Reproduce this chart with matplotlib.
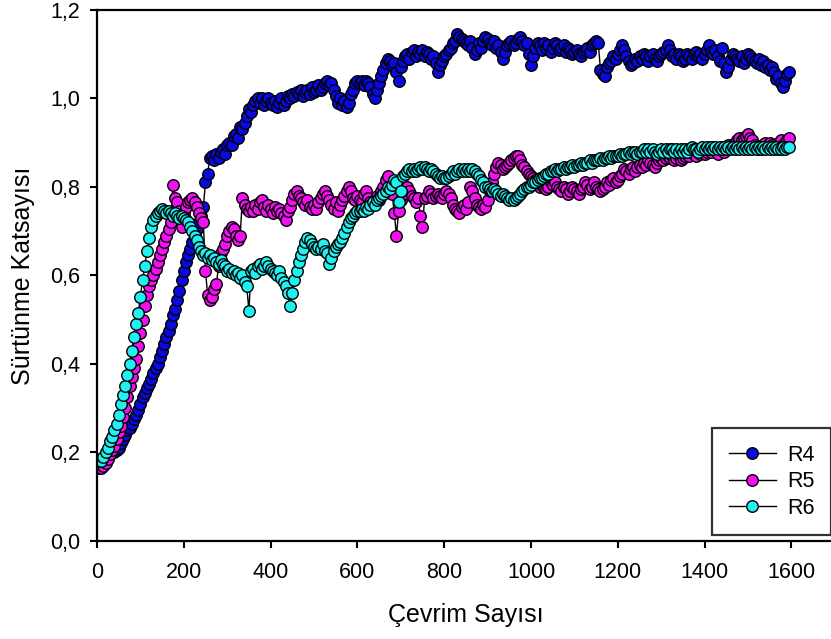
import numpy as np
import matplotlib
matplotlib.use("Agg")
import matplotlib.pyplot as plt
from matplotlib.ticker import FuncFormatter

plt.rcParams['font.family'] = ['Liberation Sans', 'DejaVu Sans']

# Cycle counts, one reading every 5 cycles
cycles = np.arange(5, 1600, 5)

r4 = [0.175, 0.18, 0.185, 0.19, 0.19, 0.195, 0.20, 0.20, 0.205, 0.21,
      0.22, 0.23, 0.24, 0.25, 0.255, 0.265, 0.275, 0.285, 0.295, 0.31,
      0.325, 0.335, 0.345, 0.355, 0.365, 0.38, 0.39, 0.40, 0.415, 0.43,
      0.445, 0.46, 0.475, 0.49, 0.51, 0.525, 0.545, 0.565, 0.59, 0.61,
      0.63, 0.645, 0.66, 0.675, 0.69, 0.705, 0.72, 0.735, 0.755, 0.81,
      0.83, 0.865, 0.87, 0.86, 0.875, 0.865, 0.88, 0.885, 0.875, 0.895,
      0.90, 0.895, 0.915, 0.92, 0.91, 0.935, 0.93, 0.945, 0.96, 0.975,
      0.97, 0.985, 0.995, 1.0, 0.99, 1.0, 0.985, 0.995, 1.0, 0.99,
      0.985, 0.995, 0.98, 0.99, 1.0, 0.985, 0.995, 1.005, 1.0, 1.01,
      1.005, 1.015, 1.01, 1.02, 1.005, 1.015, 1.02, 1.01, 1.025, 1.015,
      1.02, 1.03, 1.02, 1.025, 1.035, 1.04, 1.03, 1.035, 1.02, 1.005,
      0.99, 1.0, 0.985, 0.995, 0.98, 0.99, 1.01, 1.02, 1.035, 1.04,
      1.035, 1.04, 1.03, 1.04, 1.035, 1.025, 1.01, 1.0, 1.02, 1.035,
      1.05, 1.065, 1.08, 1.09, 1.085, 1.075, 1.08, 1.06, 1.04, 1.07,
      1.085, 1.095, 1.10, 1.09, 1.105, 1.11, 1.095, 1.105, 1.10, 1.11,
      1.095, 1.105, 1.10, 1.09, 1.095, 1.08, 1.06, 1.075, 1.085, 1.095,
      1.10, 1.11, 1.115, 1.125, 1.13, 1.145, 1.14, 1.135, 1.13, 1.125,
      1.12, 1.13, 1.115, 1.10, 1.11, 1.125, 1.115, 1.13, 1.14, 1.135,
      1.125, 1.12, 1.13, 1.115, 1.12, 1.105, 1.09, 1.105, 1.12, 1.125,
      1.13, 1.12, 1.125, 1.135, 1.14, 1.13, 1.12, 1.125, 1.10, 1.075,
      1.095, 1.115, 1.125, 1.12, 1.11, 1.125, 1.115, 1.12, 1.105, 1.115,
      1.125, 1.12, 1.11, 1.115, 1.12, 1.105, 1.115, 1.11, 1.10, 1.105,
      1.11, 1.10, 1.095, 1.105, 1.11, 1.115, 1.105, 1.12, 1.125, 1.13,
      1.125, 1.065, 1.055, 1.05, 1.07, 1.08, 1.085, 1.095, 1.09, 1.10,
      1.11, 1.12, 1.11, 1.095, 1.085, 1.075, 1.08, 1.09, 1.085, 1.095,
      1.09, 1.10, 1.095, 1.085, 1.095, 1.10, 1.09, 1.085, 1.095, 1.10,
      1.105, 1.11, 1.12, 1.11, 1.095, 1.10, 1.09, 1.10, 1.095, 1.085,
      1.09, 1.10, 1.095, 1.09, 1.10, 1.105, 1.095, 1.10, 1.09, 1.10,
      1.11, 1.12, 1.105, 1.10, 1.11, 1.095, 1.085, 1.115, 1.08, 1.06,
      1.07, 1.09, 1.10, 1.095, 1.09, 1.085, 1.095, 1.08, 1.09, 1.10,
      1.095, 1.09, 1.085, 1.08, 1.09, 1.075, 1.085, 1.07, 1.075, 1.065,
      1.07, 1.06, 1.045, 1.05, 1.035, 1.025, 1.04, 1.055, 1.06]

r5 = [0.165, 0.165, 0.17, 0.175, 0.185, 0.195, 0.205, 0.215, 0.23, 0.245,
      0.26, 0.28, 0.30, 0.325, 0.35, 0.37, 0.39, 0.41, 0.44, 0.47,
      0.50, 0.53, 0.555, 0.575, 0.59, 0.60, 0.615, 0.63, 0.645, 0.66,
      0.675, 0.69, 0.705, 0.72, 0.805, 0.775, 0.765, 0.745, 0.71, 0.74,
      0.755, 0.765, 0.77, 0.775, 0.765, 0.755, 0.74, 0.73, 0.72, 0.61,
      0.555, 0.545, 0.55, 0.57, 0.58, 0.62, 0.65, 0.66, 0.67, 0.69,
      0.70, 0.71, 0.705, 0.69, 0.68, 0.69, 0.775, 0.76, 0.75, 0.745,
      0.755, 0.745, 0.76, 0.75, 0.765, 0.77, 0.755, 0.745, 0.76, 0.75,
      0.74, 0.755, 0.745, 0.75, 0.74, 0.735, 0.725, 0.745, 0.755, 0.77,
      0.785, 0.79, 0.78, 0.775, 0.765, 0.76, 0.77, 0.755, 0.75, 0.76,
      0.75, 0.765, 0.775, 0.785, 0.79, 0.78, 0.77, 0.76, 0.75, 0.765,
      0.745, 0.76, 0.77, 0.78, 0.79, 0.80, 0.79, 0.775, 0.77, 0.78,
      0.77, 0.765, 0.785, 0.79, 0.775, 0.765, 0.76, 0.77, 0.78, 0.77,
      0.79, 0.80, 0.815, 0.825, 0.80, 0.785, 0.74, 0.69, 0.745, 0.77,
      0.785, 0.795, 0.80, 0.79, 0.78, 0.775, 0.765, 0.775, 0.735, 0.71,
      0.775, 0.78, 0.79, 0.785, 0.775, 0.78, 0.785, 0.78, 0.775, 0.785,
      0.79, 0.785, 0.775, 0.76, 0.75, 0.745, 0.74, 0.755, 0.76, 0.75,
      0.765, 0.80, 0.79, 0.775, 0.76, 0.755, 0.75, 0.76, 0.755, 0.77,
      0.79, 0.81, 0.83, 0.845, 0.855, 0.85, 0.84, 0.845, 0.85, 0.855,
      0.86, 0.865, 0.87, 0.87, 0.86, 0.85, 0.845, 0.835, 0.83, 0.825,
      0.82, 0.815, 0.81, 0.80, 0.805, 0.80, 0.795, 0.80, 0.81, 0.805,
      0.81, 0.80, 0.795, 0.79, 0.80, 0.795, 0.785, 0.79, 0.80, 0.795,
      0.79, 0.785, 0.795, 0.80, 0.81, 0.805, 0.795, 0.80, 0.81, 0.80,
      0.795, 0.79, 0.795, 0.80, 0.81, 0.805, 0.815, 0.82, 0.81, 0.815,
      0.825, 0.83, 0.84, 0.835, 0.83, 0.84, 0.845, 0.835, 0.845, 0.85,
      0.845, 0.855, 0.85, 0.86, 0.855, 0.85, 0.845, 0.855, 0.86, 0.865,
      0.86, 0.865, 0.87, 0.865, 0.87, 0.86, 0.865, 0.87, 0.86, 0.865,
      0.87, 0.875, 0.87, 0.88, 0.875, 0.87, 0.88, 0.875, 0.88, 0.875,
      0.88, 0.885, 0.88, 0.89, 0.885, 0.875, 0.885, 0.89, 0.88, 0.89,
      0.895, 0.89, 0.895, 0.90, 0.905, 0.91, 0.905, 0.91, 0.915, 0.92,
      0.91, 0.905, 0.895, 0.89, 0.885, 0.89, 0.895, 0.90, 0.895, 0.90,
      0.895, 0.89, 0.895, 0.90, 0.905, 0.895, 0.90, 0.905, 0.91]

r6 = [0.18, 0.18, 0.19, 0.20, 0.21, 0.225, 0.235, 0.25, 0.265, 0.285,
      0.31, 0.33, 0.35, 0.375, 0.40, 0.43, 0.46, 0.49, 0.515, 0.55,
      0.59, 0.62, 0.655, 0.685, 0.71, 0.725, 0.735, 0.74, 0.745, 0.75,
      0.745, 0.74, 0.745, 0.74, 0.735, 0.74, 0.735, 0.73, 0.735, 0.73,
      0.725, 0.72, 0.71, 0.70, 0.69, 0.68, 0.665, 0.655, 0.645, 0.65,
      0.64, 0.645, 0.635, 0.64, 0.63, 0.625, 0.635, 0.625, 0.62, 0.61,
      0.615, 0.605, 0.61, 0.60, 0.605, 0.595, 0.60, 0.585, 0.575, 0.52,
      0.61, 0.615, 0.605, 0.62, 0.625, 0.615, 0.62, 0.63, 0.62, 0.615,
      0.61, 0.605, 0.60, 0.61, 0.595, 0.585, 0.575, 0.56, 0.53, 0.56,
      0.59, 0.61, 0.63, 0.645, 0.66, 0.675, 0.685, 0.68, 0.67, 0.665,
      0.66, 0.665, 0.66, 0.67, 0.655, 0.65, 0.625, 0.64, 0.655, 0.665,
      0.67, 0.675, 0.685, 0.695, 0.71, 0.72, 0.73, 0.735, 0.74, 0.745,
      0.745, 0.75, 0.745, 0.755, 0.75, 0.76, 0.765, 0.76, 0.77, 0.775,
      0.78, 0.785, 0.79, 0.80, 0.795, 0.805, 0.815, 0.81, 0.765, 0.79,
      0.825, 0.83, 0.835, 0.84, 0.835, 0.84, 0.835, 0.84, 0.845, 0.84,
      0.845, 0.84, 0.835, 0.84, 0.835, 0.83, 0.825, 0.82, 0.825, 0.82,
      0.82, 0.825, 0.83, 0.835, 0.83, 0.835, 0.84, 0.835, 0.84, 0.835,
      0.84, 0.835, 0.84, 0.835, 0.83, 0.825, 0.815, 0.81, 0.80, 0.80,
      0.795, 0.79, 0.795, 0.79, 0.785, 0.78, 0.785, 0.78, 0.775, 0.77,
      0.775, 0.77, 0.775, 0.78, 0.785, 0.79, 0.795, 0.80, 0.80, 0.805,
      0.81, 0.81, 0.815, 0.82, 0.82, 0.825, 0.83, 0.83, 0.835, 0.835,
      0.84, 0.835, 0.84, 0.84, 0.845, 0.84, 0.845, 0.845, 0.85, 0.845,
      0.85, 0.85, 0.855, 0.85, 0.855, 0.855, 0.86, 0.855, 0.86, 0.86,
      0.86, 0.865, 0.86, 0.865, 0.865, 0.87, 0.865, 0.87, 0.87, 0.87,
      0.875, 0.87, 0.875, 0.875, 0.88, 0.875, 0.88, 0.88, 0.875, 0.88,
      0.88, 0.885, 0.88, 0.885, 0.88, 0.885, 0.88, 0.875, 0.88, 0.885,
      0.88, 0.885, 0.88, 0.885, 0.885, 0.88, 0.885, 0.88, 0.885, 0.88,
      0.885, 0.88, 0.885, 0.89, 0.885, 0.885, 0.88, 0.885, 0.89, 0.885,
      0.89, 0.885, 0.89, 0.885, 0.89, 0.885, 0.89, 0.885, 0.89, 0.885,
      0.89, 0.885, 0.89, 0.885, 0.89, 0.885, 0.89, 0.885, 0.89, 0.885,
      0.89, 0.885, 0.89, 0.885, 0.89, 0.885, 0.89, 0.885, 0.89, 0.885,
      0.89, 0.885, 0.89, 0.885, 0.885, 0.89, 0.885, 0.89, 0.89]

series_names = ["R4", "R5", "R6"]
series_values = [r4, r5, r6]
series_colors = ["#0a0ae0", "#f010f0", "#20f0f0"]

x_ticks = [0, 200, 400, 600, 800, 1000, 1200, 1400, 1600]
y_ticks = [0.0, 0.2, 0.4, 0.6, 0.8, 1.0, 1.2]

fig = plt.figure(figsize=(8.31, 6.39), dpi=100)
ax = fig.add_axes([0.1167, 0.1538, 0.8879, 0.8306])

handles = []
for name, vals, col in zip(series_names, series_values, series_colors):
    assert len(vals) == len(cycles), (name, len(vals))
    h, = ax.plot(cycles, vals, color="black", linewidth=1.0,
                 marker="o", markersize=8.3, markerfacecolor=col,
                 markeredgecolor="black", markeredgewidth=1.0,
                 label=name)
    handles.append(h)

ax.set_xlim(0, 1700)
ax.set_ylim(0, 1.2)
ax.set_xticks(x_ticks)
ax.set_yticks(y_ticks)
ax.yaxis.set_major_formatter(FuncFormatter(lambda v, p: f"{v:.1f}".replace(".", ",")))

for side in ["left", "bottom", "top", "right"]:
    ax.spines[side].set_linewidth(1.6)
ax.tick_params(axis="both", which="major", direction="out", length=5,
               width=1.5, labelsize=15.5, top=False, right=False)
ax.tick_params(axis="x", pad=10)
ax.tick_params(axis="y", pad=7)

ax.set_xlabel("Çevrim Sayısı", fontsize=18, labelpad=15)
ax.set_ylabel("Sürtünme Katsayısı", fontsize=18, labelpad=11)

leg = ax.legend(handles=handles, loc="upper left",
                bbox_to_anchor=(712 / 831, 1 - 428 / 639),
                bbox_transform=fig.transFigure,
                fontsize=15.5, frameon=True, fancybox=False,
                handlelength=2.2, handletextpad=0.5, labelspacing=0.25,
                borderpad=0.78, borderaxespad=0)
leg.get_frame().set_edgecolor("black")
leg.get_frame().set_linewidth(1.6)

fig.savefig("out.png", dpi=100)
